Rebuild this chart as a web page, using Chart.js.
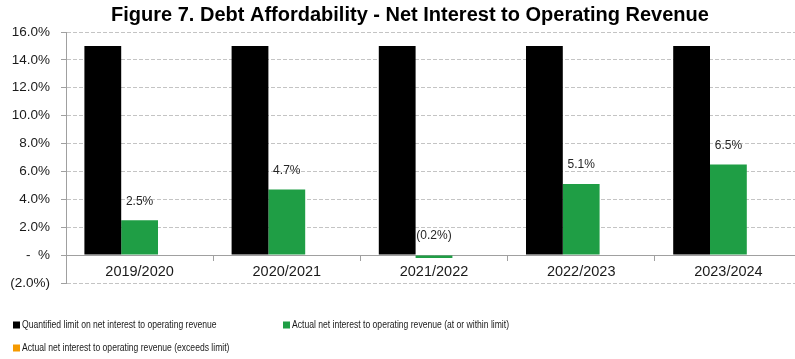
<!DOCTYPE html>
<html>
<head>
<meta charset="utf-8">
<script src="https://cdn.jsdelivr.net/npm/chart.js@4.4.1/dist/chart.umd.min.js"></script>
<style>
  html, body { margin: 0; padding: 0; background: #ffffff; overflow: hidden; }
  #wrap { position: relative; width: 802px; height: 359px; }
</style>
</head>
<body>
<div id="wrap"><canvas id="c"></canvas></div>
<script>
// Fiscal years on the category axis
const years = ['2019/2020', '2020/2021', '2021/2022', '2022/2023', '2023/2024'];

// Ratios in percent
const limitValues = [15.0, 15.0, 15.0, 15.0, 15.0];
const withinLimitValues = [2.5, 4.7, -0.2, 5.1, 6.5];
const exceedsLimitValues = [null, null, null, null, null];

const seriesNames = [
  'Quantified limit on net interest to operating revenue',
  'Actual net interest to operating revenue (at or within limit)',
  'Actual net interest to operating revenue (exceeds limit)'
];
const seriesColors = ['#000000', '#1f9e45', '#f59a00'];

const chartTitle = 'Figure 7. Debt Affordability - Net Interest to Operating Revenue';

const yMin = -2, yMax = 16, yStep = 2;

function pctLabel(v) {
  if (Math.abs(v) < 1e-9) return '-  %';
  if (v < 0) return '(' + Math.abs(v).toFixed(1) + '%)';
  return v.toFixed(1) + '%';
}

// Heading drawn above the plot
const heading = {
  id: 'heading',
  afterDraw(chart) {
    const { ctx } = chart;
    ctx.save();
    ctx.font = 'bold 20px "Liberation Sans", Arial, sans-serif';
    ctx.fillStyle = '#000000';
    ctx.textAlign = 'center';
    ctx.textBaseline = 'middle';
    ctx.fillText(chartTitle, 410, 15);
    ctx.restore();
  }
};

// Value labels above the "within limit" bars
const valueLabels = {
  id: 'valueLabels',
  afterDatasetsDraw(chart) {
    const { ctx } = chart;
    const y = chart.scales.y;
    const meta = chart.getDatasetMeta(1);
    ctx.save();
    ctx.font = '12px "Liberation Sans", Arial, sans-serif';
    ctx.fillStyle = '#262626';
    ctx.textAlign = 'center';
    ctx.textBaseline = 'middle';
    meta.data.forEach((bar, i) => {
      const v = chart.data.datasets[1].data[i];
      if (v === null) return;
      const py = y.getPixelForValue(Math.max(v, 0)) - 19;
      ctx.fillText(pctLabel(v), bar.x, py);
    });
    ctx.restore();
  }
};

// Two-column legend under the plot (text slightly condensed)
const bottomLegend = {
  id: 'bottomLegend',
  afterDraw(chart) {
    const { ctx } = chart;
    const slots = [
      { x: 13, y: 325 },
      { x: 283, y: 325 },
      { x: 13, y: 348 }
    ];
    const squeeze = 0.78;
    ctx.save();
    ctx.font = '11px "Liberation Sans", Arial, sans-serif';
    ctx.textBaseline = 'middle';
    ctx.textAlign = 'left';
    chart.data.datasets.forEach((ds, i) => {
      const s = slots[i];
      ctx.fillStyle = ds.backgroundColor;
      ctx.fillRect(s.x, s.y - 3.5, 7, 7);
      ctx.save();
      ctx.translate(s.x + 9, s.y);
      ctx.scale(squeeze, 1);
      ctx.fillStyle = '#1a1a1a';
      ctx.fillText(ds.label, 0, 0);
      ctx.restore();
    });
    ctx.restore();
  }
};

const ctx = document.getElementById('c').getContext('2d');
new Chart(ctx, {
  type: 'bar',
  data: {
    labels: years,
    datasets: [
      { label: seriesNames[0], data: limitValues, backgroundColor: seriesColors[0] },
      { label: seriesNames[1], data: withinLimitValues, backgroundColor: seriesColors[1] },
      { label: seriesNames[2], data: exceedsLimitValues, backgroundColor: seriesColors[2] }
    ]
  },
  options: {
    responsive: true,
    maintainAspectRatio: false,
    animation: false,
    devicePixelRatio: 1,
    layout: { padding: { left: 0, right: 0, top: 32, bottom: 76 } },
    datasets: {
      bar: { barPercentage: 1.0, categoryPercentage: 0.75 }
    },
    plugins: {
      legend: { display: false },
      tooltip: { enabled: false },
      title: { display: false }
    },
    scales: {
      x: {
        position: { y: 0 },
        grid: {
          display: true,
          drawOnChartArea: false,
          drawTicks: true,
          offset: true,
          tickLength: 5,
          tickColor: '#a0a0a0'
        },
        border: { display: true, color: '#a0a0a0', width: 1 },
        ticks: {
          color: '#1a1a1a',
          padding: 3,
          font: { family: '"Liberation Sans", Arial, sans-serif', size: 14.5 }
        }
      },
      y: {
        min: yMin,
        max: yMax,
        afterFit(scale) { scale.width = 66; },
        ticks: {
          stepSize: yStep,
          color: '#1a1a1a',
          padding: 11,
          font: { family: '"Liberation Sans", Arial, sans-serif', size: 13.5 },
          callback: (v) => pctLabel(v)
        },
        grid: {
          color: '#c4c4c4',
          tickColor: '#a0a0a0',
          tickLength: 5,
          lineWidth: 1
        },
        border: { display: true, color: '#a0a0a0', width: 1, dash: [4, 2] }
      }
    }
  },
  plugins: [heading, valueLabels, bottomLegend]
});
</script>
</body>
</html>
